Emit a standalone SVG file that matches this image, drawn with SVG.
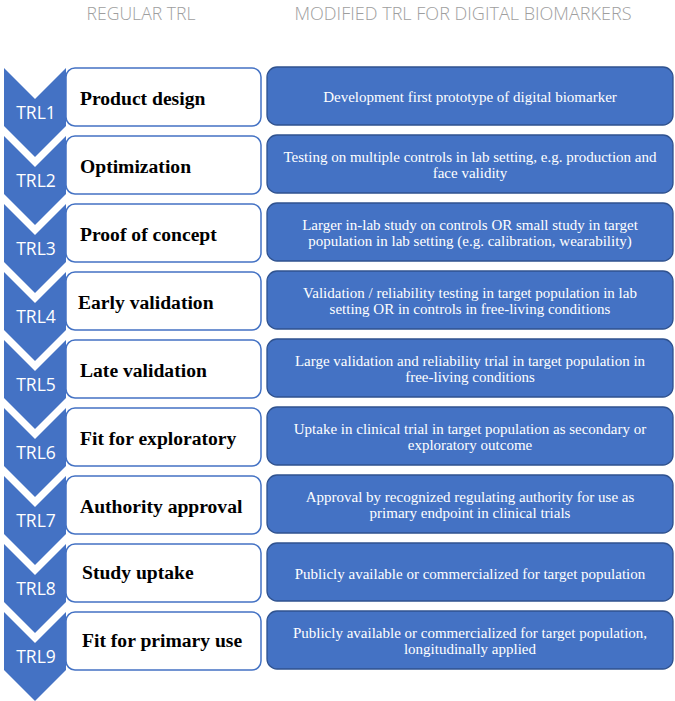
<svg xmlns="http://www.w3.org/2000/svg" width="675" height="701" viewBox="0 0 675 701">
<defs>
<style>
.hdr{font-family:"Open Sans","Liberation Sans",sans-serif;font-weight:300;font-size:19px;fill:#9E9E9E;text-anchor:middle}
.chev{fill:#4472C4}
.trl{font-family:"Open Sans","Liberation Sans",sans-serif;font-size:17.5px;fill:#fff;text-anchor:middle}
.lbox{fill:#fff;stroke:#4472C4;stroke-width:1.5}
.lbl{font-family:"Liberation Serif","Times New Roman",serif;font-weight:bold;font-size:19.6px;fill:#000}
.rbox{fill:#4472C4;stroke:#2F528F;stroke-width:1.3}
.desc{font-family:"Liberation Serif","Times New Roman",serif;font-size:15px;fill:#fff;text-anchor:middle}
</style>
<path id="chevShape" d="M4,0 L35,31 L66,0 L66,58 L35,89 L4,58 Z"/>
</defs>
<g id="headers">
<text class="hdr" x="141" y="20" textLength="109" lengthAdjust="spacingAndGlyphs">REGULAR TRL</text>
<text class="hdr" x="463" y="20" textLength="337" lengthAdjust="spacingAndGlyphs">MODIFIED TRL FOR DIGITAL BIOMARKERS</text>
</g>
<g id="connectors"></g>
<g id="trl1" transform="translate(0,68)">
<use href="#chevShape" class="chev"/><text class="trl" x="36" y="51">TRL1</text>
<rect class="lbox" x="66" y="0" width="195" height="58" rx="9"/><text class="lbl" x="80" y="37">Product design</text>
<rect class="rbox" x="267" y="-1" width="406" height="58" rx="10"/><text class="desc" x="470" y="34">Development first prototype of digital biomarker</text>
</g>
<g id="trl2" transform="translate(0,136)">
<use href="#chevShape" class="chev"/><text class="trl" x="36" y="51">TRL2</text>
<rect class="lbox" x="66" y="0" width="195" height="58" rx="9"/><text class="lbl" x="80" y="37">Optimization</text>
<rect class="rbox" x="267" y="-1" width="406" height="58" rx="10"/><text class="desc" x="470" y="26">Testing on multiple controls in lab setting, e.g. production and</text><text class="desc" x="470" y="42">face validity</text>
</g>
<g id="trl3" transform="translate(0,204)">
<use href="#chevShape" class="chev"/><text class="trl" x="36" y="51">TRL3</text>
<rect class="lbox" x="66" y="0" width="195" height="58" rx="9"/><text class="lbl" x="80" y="37">Proof of concept</text>
<rect class="rbox" x="267" y="-1" width="406" height="58" rx="10"/><text class="desc" x="470" y="26">Larger in-lab study on controls OR small study in target</text><text class="desc" x="470" y="42">population in lab setting (e.g. calibration, wearability)</text>
</g>
<g id="trl4" transform="translate(0,272)">
<use href="#chevShape" class="chev"/><text class="trl" x="36" y="51">TRL4</text>
<rect class="lbox" x="66" y="0" width="195" height="58" rx="9"/><text class="lbl" x="78" y="37">Early validation</text>
<rect class="rbox" x="267" y="-1" width="406" height="58" rx="10"/><text class="desc" x="470" y="26">Validation / reliability testing in target population in lab</text><text class="desc" x="470" y="42">setting OR in controls in free-living conditions</text>
</g>
<g id="trl5" transform="translate(0,340)">
<use href="#chevShape" class="chev"/><text class="trl" x="36" y="51">TRL5</text>
<rect class="lbox" x="66" y="0" width="195" height="58" rx="9"/><text class="lbl" x="80" y="37">Late validation</text>
<rect class="rbox" x="267" y="-1" width="406" height="58" rx="10"/><text class="desc" x="470" y="26">Large validation and reliability trial in target population in</text><text class="desc" x="470" y="42">free-living conditions</text>
</g>
<g id="trl6" transform="translate(0,408)">
<use href="#chevShape" class="chev"/><text class="trl" x="36" y="51">TRL6</text>
<rect class="lbox" x="66" y="0" width="195" height="58" rx="9"/><text class="lbl" x="80" y="37">Fit for exploratory</text>
<rect class="rbox" x="267" y="-1" width="406" height="58" rx="10"/><text class="desc" x="470" y="26">Uptake in clinical trial in target population as secondary or</text><text class="desc" x="470" y="42">exploratory outcome</text>
</g>
<g id="trl7" transform="translate(0,476)">
<use href="#chevShape" class="chev"/><text class="trl" x="36" y="51">TRL7</text>
<rect class="lbox" x="66" y="0" width="195" height="58" rx="9"/><text class="lbl" x="80" y="37">Authority approval</text>
<rect class="rbox" x="267" y="-1" width="406" height="58" rx="10"/><text class="desc" x="470" y="26">Approval by recognized regulating authority for use as</text><text class="desc" x="470" y="42">primary endpoint in clinical trials</text>
</g>
<g id="trl8" transform="translate(0,544)">
<use href="#chevShape" class="chev"/><text class="trl" x="36" y="51">TRL8</text>
<rect class="lbox" x="66" y="0" width="195" height="58" rx="9"/><text class="lbl" x="82" y="35">Study uptake</text>
<rect class="rbox" x="267" y="-1" width="406" height="58" rx="10"/><text class="desc" x="470" y="35">Publicly available or commercialized for target population</text>
</g>
<g id="trl9" transform="translate(0,612)">
<use href="#chevShape" class="chev"/><text class="trl" x="36" y="51">TRL9</text>
<rect class="lbox" x="66" y="0" width="195" height="58" rx="9"/><text class="lbl" x="82" y="35">Fit for primary use</text>
<rect class="rbox" x="267" y="-1" width="406" height="58" rx="10"/><text class="desc" x="470" y="26">Publicly available or commercialized for target population,</text><text class="desc" x="470" y="42">longitudinally applied</text>
</g>
</svg>
